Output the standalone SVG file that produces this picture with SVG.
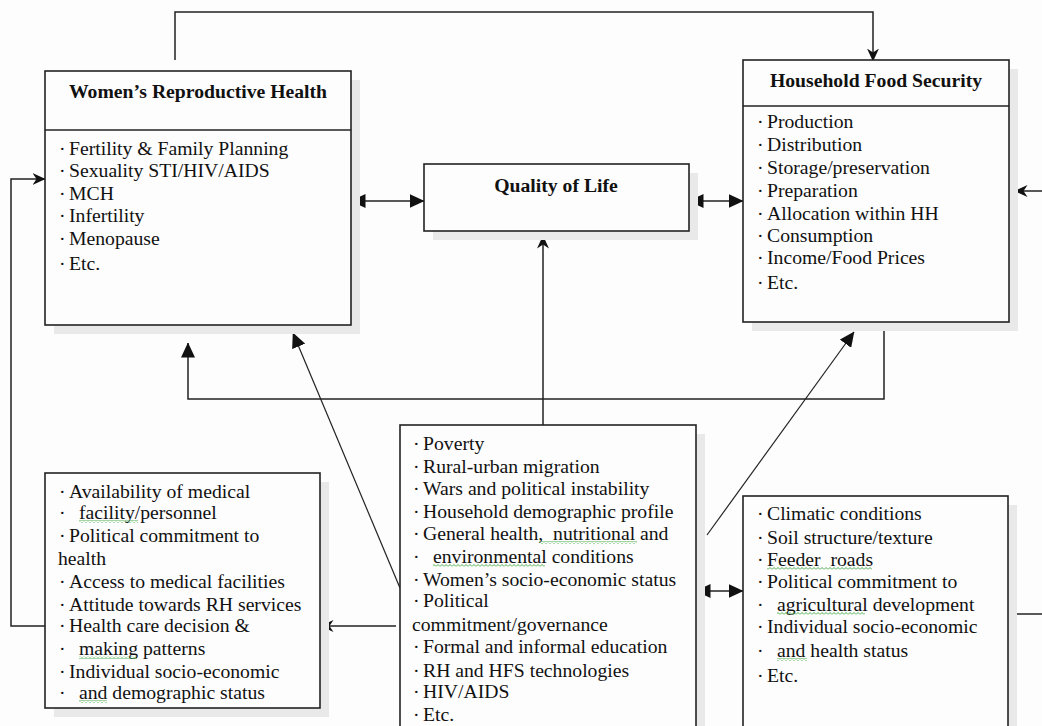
<svg xmlns="http://www.w3.org/2000/svg" width="1042" height="726" viewBox="0 0 1042 726">
<style>
.bg{fill:#fdfdfd}
.box{fill:#fdfdfd;stroke:#222;stroke-width:1.6}
.sh{fill:#e9e9e9}
.div{stroke:#222;stroke-width:1.6}
.t{font-family:"Liberation Serif","Times New Roman",serif;font-size:19.7px;fill:#111}
.h{font-family:"Liberation Serif","Times New Roman",serif;font-size:19.7px;font-weight:bold;fill:#111;text-anchor:middle}
.c{fill:none;stroke:#222;stroke-width:1.5}
.d{fill:none;stroke:#222;stroke-width:1.2}
.sq{fill:url(#zig)}
</style>
<defs>
<marker id="tri" viewBox="0 0 15 14" refX="14.5" refY="7" markerWidth="15" markerHeight="14" markerUnits="userSpaceOnUse" orient="auto-start-reverse">
<path d="M0,0 L15,7 L0,14 z" fill="#111"/>
</marker>
<marker id="st" viewBox="0 0 13 12" refX="12.5" refY="6" markerWidth="13" markerHeight="12" markerUnits="userSpaceOnUse" orient="auto-start-reverse">
<path d="M0,0 L13,6 L0,12 L4,6 z" fill="#111"/>
</marker>
<pattern id="zig" x="0" y="0" width="4" height="3" patternUnits="userSpaceOnUse">
<path d="M0,2.5 L2,0.5 L4,2.5" fill="none" stroke="#3aa53a" stroke-width="0.9"/>
</pattern>
</defs>
<rect class="bg" x="0" y="0" width="1042" height="726"/>

<g id="connectors">
<polyline class="c" points="175,60 175,12 873,12 873,61" marker-end="url(#st)"/>
<line class="c" x1="351" y1="201" x2="424" y2="201" marker-start="url(#tri)" marker-end="url(#tri)"/>
<line class="c" x1="689" y1="201" x2="743" y2="201" marker-start="url(#tri)" marker-end="url(#tri)"/>
<line class="c" x1="543" y1="425" x2="543" y2="236" marker-end="url(#st)"/>
<polyline class="c" points="884,322 884,399 188,399 188,343" marker-end="url(#tri)"/>
<line class="d" x1="400" y1="588" x2="293" y2="333" marker-end="url(#tri)"/>
<line class="d" x1="707" y1="535" x2="854" y2="332" marker-end="url(#tri)"/>
<line class="c" x1="696" y1="591" x2="743" y2="591" marker-start="url(#tri)" marker-end="url(#tri)"/>
<line class="c" x1="396" y1="626" x2="321" y2="626" marker-end="url(#st)"/>
<polyline class="c" points="45,626 11,626 11,179 45,179" marker-end="url(#st)"/>
<line class="c" x1="1016" y1="614" x2="1042" y2="614"/>
<line class="c" x1="1042" y1="191" x2="1015" y2="191" marker-end="url(#st)"/>
</g>

<g id="wrh">
<rect class="sh" x="54" y="80" width="306" height="254"/>
<rect class="box" x="45" y="71" width="306" height="254"/>
<line class="div" x1="45" y1="130" x2="351" y2="130"/>
<text class="h" x="198" y="98">Women’s Reproductive Health</text>
<text class="t"><tspan x="59" y="155">·</tspan><tspan x="69">Fertility &amp; Family Planning</tspan></text>
<text class="t"><tspan x="59" y="177">·</tspan><tspan x="69">Sexuality STI/HIV/AIDS</tspan></text>
<text class="t"><tspan x="59" y="200">·</tspan><tspan x="69">MCH</tspan></text>
<text class="t"><tspan x="59" y="222">·</tspan><tspan x="69">Infertility</tspan></text>
<text class="t"><tspan x="59" y="245">·</tspan><tspan x="69">Menopause</tspan></text>
<text class="t"><tspan x="59" y="270">·</tspan><tspan x="69">Etc.</tspan></text>
</g>

<g id="qol">
<rect class="sh" x="433" y="173" width="265" height="67"/>
<rect class="box" x="424" y="164" width="265" height="67"/>
<text class="h" x="556" y="192">Quality of Life</text>
</g>

<g id="hfs">
<rect class="sh" x="752" y="69" width="266" height="262"/>
<rect class="box" x="743" y="60" width="266" height="262"/>
<line class="div" x1="743" y1="106" x2="1009" y2="106"/>
<text class="h" x="876" y="87">Household Food Security</text>
<text class="t"><tspan x="757" y="128">·</tspan><tspan x="767">Production</tspan></text>
<text class="t"><tspan x="757" y="151">·</tspan><tspan x="767">Distribution</tspan></text>
<text class="t"><tspan x="757" y="174">·</tspan><tspan x="767">Storage/preservation</tspan></text>
<text class="t"><tspan x="757" y="197">·</tspan><tspan x="767">Preparation</tspan></text>
<text class="t"><tspan x="757" y="220">·</tspan><tspan x="767">Allocation within HH</tspan></text>
<text class="t"><tspan x="757" y="242">·</tspan><tspan x="767">Consumption</tspan></text>
<text class="t"><tspan x="757" y="264">·</tspan><tspan x="767">Income/Food Prices</tspan></text>
<text class="t"><tspan x="757" y="289">·</tspan><tspan x="767">Etc.</tspan></text>
</g>

<g id="health-services">
<rect class="sh" x="54" y="482" width="275" height="235"/>
<rect class="box" x="45" y="473" width="275" height="235"/>
<text class="t"><tspan x="59" y="498">·</tspan><tspan x="69">Availability of medical</tspan></text>
<text class="t"><tspan x="59" y="519">·</tspan><tspan x="79">facility/personnel</tspan></text>
<rect class="sq" x="79" y="520" width="59" height="3"/>
<text class="t"><tspan x="59" y="542">·</tspan><tspan x="69">Political commitment to</tspan></text>
<text class="t" x="58" y="565">health</text>
<text class="t"><tspan x="59" y="588">·</tspan><tspan x="69">Access to medical facilities</tspan></text>
<text class="t"><tspan x="59" y="611">·</tspan><tspan x="69">Attitude towards RH services</tspan></text>
<text class="t"><tspan x="59" y="632">·</tspan><tspan x="69">Health care decision &amp;</tspan></text>
<text class="t"><tspan x="59" y="655">·</tspan><tspan x="79">making patterns</tspan></text>
<rect class="sq" x="79" y="656" width="58" height="3"/>
<text class="t"><tspan x="59" y="678">·</tspan><tspan x="69">Individual socio-economic</tspan></text>
<text class="t"><tspan x="59" y="699">·</tspan><tspan x="79">and demographic status</tspan></text>
<rect class="sq" x="79" y="700" width="28" height="3"/>
</g>

<g id="determinants">
<rect class="sh" x="409" y="434" width="296" height="300"/>
<rect class="box" x="400" y="425" width="296" height="310"/>
<text class="t"><tspan x="413" y="450">·</tspan><tspan x="423">Poverty</tspan></text>
<text class="t"><tspan x="413" y="473">·</tspan><tspan x="423">Rural-urban migration</tspan></text>
<text class="t"><tspan x="413" y="495">·</tspan><tspan x="423">Wars and political instability</tspan></text>
<text class="t"><tspan x="413" y="518">·</tspan><tspan x="423">Household demographic profile</tspan></text>
<text class="t" xml:space="preserve"><tspan x="413" y="540">·</tspan><tspan x="423">General health,  nutritional and</tspan></text>
<rect class="sq" x="539" y="541" width="98" height="3"/>
<text class="t"><tspan x="413" y="563">·</tspan><tspan x="433">environmental conditions</tspan></text>
<rect class="sq" x="433" y="564" width="112" height="3"/>
<text class="t"><tspan x="413" y="586">·</tspan><tspan x="423">Women’s socio-economic status</tspan></text>
<text class="t"><tspan x="413" y="607">·</tspan><tspan x="423">Political</tspan></text>
<text class="t" x="412" y="631">commitment/governance</text>
<text class="t"><tspan x="413" y="653">·</tspan><tspan x="423">Formal and informal education</tspan></text>
<text class="t"><tspan x="413" y="677">·</tspan><tspan x="423">RH and HFS technologies</tspan></text>
<text class="t"><tspan x="413" y="698">·</tspan><tspan x="423">HIV/AIDS</tspan></text>
<text class="t"><tspan x="413" y="721">·</tspan><tspan x="423">Etc.</tspan></text>
</g>

<g id="agri-factors">
<rect class="sh" x="752" y="505" width="265" height="230"/>
<rect class="box" x="743" y="496" width="265" height="240"/>
<text class="t"><tspan x="757" y="520">·</tspan><tspan x="767">Climatic conditions</tspan></text>
<text class="t"><tspan x="757" y="544">·</tspan><tspan x="767">Soil structure/texture</tspan></text>
<text class="t" xml:space="preserve"><tspan x="757" y="566">·</tspan><tspan x="767">Feeder  roads</tspan></text>
<rect class="sq" x="767" y="567" width="105" height="3"/>
<text class="t"><tspan x="757" y="588">·</tspan><tspan x="767">Political commitment to</tspan></text>
<text class="t"><tspan x="757" y="611">·</tspan><tspan x="777">agricultural development</tspan></text>
<rect class="sq" x="777" y="612" width="88" height="3"/>
<text class="t"><tspan x="757" y="633">·</tspan><tspan x="767">Individual socio-economic</tspan></text>
<text class="t"><tspan x="757" y="657">·</tspan><tspan x="777">and health status</tspan></text>
<rect class="sq" x="777" y="658" width="30" height="3"/>
<text class="t"><tspan x="757" y="682">·</tspan><tspan x="767">Etc.</tspan></text>
</g>
</svg>
